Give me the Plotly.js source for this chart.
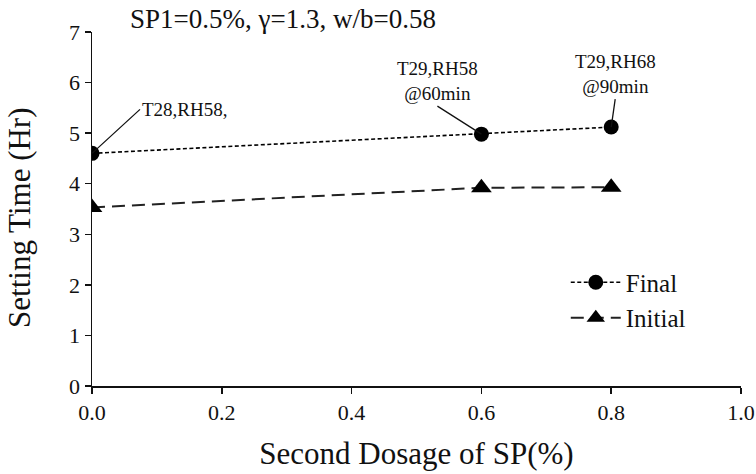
<!DOCTYPE html>
<html>
<head>
<meta charset="utf-8">
<script src="https://cdn.plot.ly/plotly-3.0.1.min.js"></script>
<style>html,body{margin:0;padding:0;background:#fff;}#chart{width:756px;height:474px;}</style>
</head>
<body>
<div id="chart"></div>
<script>
const dosage = [0.0, 0.6, 0.8];
const finalTime = [4.6, 4.98, 5.12];
const initialTime = [3.53, 3.92, 3.93];
const xTicks = [0, 0.2, 0.4, 0.6, 0.8, 1.0];
const xTickLabels = ["0.0", "0.2", "0.4", "0.6", "0.8", "1.0"];
const yTicks = [0, 1, 2, 3, 4, 5, 6, 7];
const noteTexts = ["T28,RH58,", "T29,RH58<br>@60min", "T29,RH68<br>@90min"];

const FONT = "Liberation Serif, serif";

const traces = [
  {
    x: dosage, y: finalTime, name: "Final", type: "scatter", mode: "lines+markers",
    line: {color: "#000", width: 1.6, dash: "4px,2.5px"},
    marker: {symbol: "circle", size: 15, color: "#000"}
  },
  {
    x: dosage, y: initialTime, name: "Initial", type: "scatter", mode: "lines+markers",
    line: {color: "#222", width: 2, dash: "13px,7px"},
    marker: {symbol: "triangle-up", size: 18, color: "#000"}
  }
];

const layout = {
  width: 756, height: 474,
  margin: {l: 92, r: 15, t: 32, b: 88},
  paper_bgcolor: "#fff", plot_bgcolor: "#fff",
  font: {family: FONT, color: "#111", size: 18},
  title: {text: "SP1=0.5%, γ=1.3, w/b=0.58", x: 0.172, xref: "container",
          xanchor: "left", y: 0.96, yref: "container", yanchor: "middle",
          font: {family: FONT, size: 27, color: "#111"}},
  showlegend: true,
  legend: {x: 0.73, y: 0.243, xanchor: "left", yanchor: "middle",
           font: {family: FONT, size: 25, color: "#111"}, itemwidth: 50,
           bgcolor: "rgba(0,0,0,0)", tracegroupgap: 2},
  xaxis: {
    range: [0, 1.0], tickvals: xTicks, ticktext: xTickLabels,
    showgrid: false, zeroline: false, showline: true, linecolor: "#111", linewidth: 1.5,
    ticks: "outside", ticklen: 6, tickcolor: "#111", tickwidth: 1.5,
    tickfont: {family: FONT, size: 22, color: "#111"},
    title: {text: "Second Dosage of SP(%)", font: {family: FONT, size: 31, color: "#111"}, standoff: 18}
  },
  yaxis: {
    range: [0, 7], tickvals: yTicks,
    showgrid: false, zeroline: false, showline: true, linecolor: "#111", linewidth: 1.5,
    ticks: "outside", ticklen: 6, tickcolor: "#111", tickwidth: 1.5,
    tickfont: {family: FONT, size: 22, color: "#111"}
  },
  annotations: [
    {xref: "paper", yref: "paper", x: -0.111, y: 0.4746, xanchor: "center", yanchor: "middle",
     showarrow: false, textangle: -90, text: "Setting Time (Hr)",
     font: {family: FONT, size: 31, color: "#111"}},
    {x: dosage[0], y: finalTime[0], text: noteTexts[0], showarrow: true, arrowhead: 0,
     arrowwidth: 1.3, arrowcolor: "#111", ax: 48, ay: -44, xanchor: "left", yanchor: "middle",
     font: {family: FONT, size: 19, color: "#111"}},
    {x: dosage[1], y: finalTime[1], text: noteTexts[1], showarrow: true, arrowhead: 0,
     arrowwidth: 1.3, arrowcolor: "#111", ax: -44, ay: -28, xanchor: "center", yanchor: "bottom",
     font: {family: FONT, size: 19, color: "#111"}},
    {x: dosage[2], y: finalTime[2], text: noteTexts[2], showarrow: true, arrowhead: 0,
     arrowwidth: 1.3, arrowcolor: "#111", ax: 4, ay: -28, xanchor: "center", yanchor: "bottom",
     font: {family: FONT, size: 19, color: "#111"}}
  ]
};

Plotly.newPlot("chart", traces, layout, {displayModeBar: false, staticPlot: true});
</script>
</body>
</html>
